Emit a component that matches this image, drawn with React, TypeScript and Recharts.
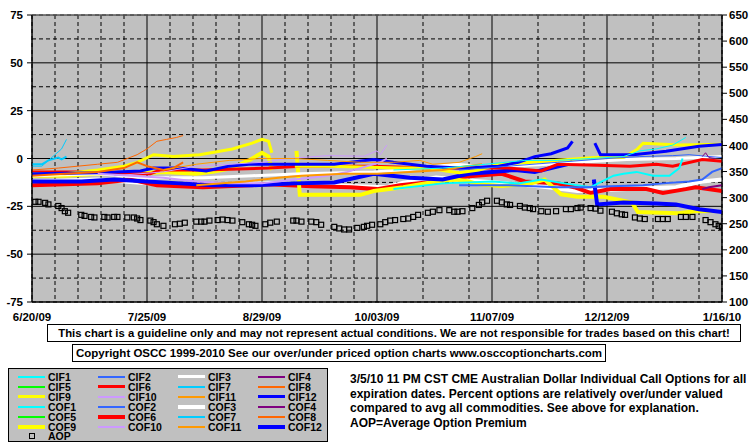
import React from 'react'
import { LineChart, Line, XAxis, YAxis, CartesianGrid, ReferenceLine } from 'recharts'

type Pt = [number, number | null]

// x = days since 6/20/09, left axis = percent over/under, right axis = AOP
const X_TICKS = [0, 35, 70, 105, 140, 175, 210]
const X_LABELS = ['6/20/09', '7/25/09', '8/29/09', '10/03/09', '11/07/09', '12/12/09', '1/16/10']
const WEEK_LINES = [7, 14, 21, 28, 42, 49, 56, 63, 77, 84, 91, 98, 112, 119, 126, 133, 147, 154, 161, 168, 182, 189, 196, 203]
const MONTH_LINES = [35, 70, 105, 140, 175]
const LEFT_TICKS = [-75, -50, -25, 0, 25, 50, 75]
const HALF_LINES = [-62.5, -37.5, -12.5, 12.5, 37.5, 62.5]
const FULL_LINES = [-50, -25, 0, 25, 50]
const RIGHT_TICKS = [100, 150, 200, 250, 300, 350, 400, 450, 500, 550, 600, 650]

const CIF1: Pt[] = [[110, -6], [125, -5], [138, -3], [150, -1], [160, -1], [170, 0], [180, 1], [185, 4], [190, 5], [195, 7], [199, 11]]
const CIF2: Pt[] = [[130, -6], [145, -4], [160, -2], [175, 0], [185, 1], [195, 1.5], [200, 2], [205, 1.2], [210, 0.5]]
const CIF3: Pt[] = [[0, -9], [20, -8], [35, -10], [52, -10], [67, -9], [82, -8], [104, -7], [113, -6], [129, -3], [139, -4.5], [157, -3], [166, -2], [181, -0.5], [196, 0], [210, 1]]
const CIF4: Pt[] = [[204, 1], [205, 3], [206, 0.5], [208, 0]]
const CIF5: Pt[] = []
const CIF6: Pt[] = [[0, -7], [20, -7], [30, -8], [36, -8], [39, -6], [52, -6], [72, -5], [82, -4], [104, -4], [120, -5], [135, -5], [145, -5], [155, -6.5], [160, -3], [172, -3.5], [182, -4], [190, -3], [195, -4], [204, -0.5], [210, -1.5]]
const CIF7: Pt[] = [[0, -4], [3, -4], [5, -1], [7, 2], [9, 5], [10.5, 10]]
const CIF8: Pt[] = [[0, -6], [8, -5], [14, -4], [20, -3], [26, -2], [32, 2], [35, 5], [38, 9], [41, 10], [44, 11], [46, 12]]
const CIF9: Pt[] = [[0, -8], [10, -8], [20, -6], [28, -4], [32, -2], [37, 2], [43, 1], [51, 2], [61, 5], [67, 8], [70, 10], [72, 9], [73, 3], [76, null],
  [80, -4], [90, -4], [100, -4.5], [112, -5], [121, -5], [126, -6.5], [130, -7.5], [136, -6], [142, -3], [152, -2], [163, -0.5], [171, 0.5], [180, 0.5], [184, 4.5], [186, 8], [197, 7], [210, 7.5]]
const CIF10: Pt[] = [[25, -9], [40, -7], [50, -4], [60, -3], [70, -2], [78, 0], [90, 1.5], [101, 1.2], [105, 4], [106, 2], [108, 7]]
const CIF11: Pt[] = [[40, -6], [50, -3], [60, -1], [70, 0], [80, 0], [90, -1], [100, -2], [110, -2], [118, -1], [122, -3], [130, -2], [135, 1], [137, 2.5]]
const CIF12: Pt[] = [[0, -8], [20, -7.5], [33, -6.5], [37, -5], [45, -5], [53, -6.5], [60, -4], [66, -3], [82, -3], [92, -3], [104, -0.5], [110, -2], [120, -4], [130, -5], [142, -4], [148, -2], [153, 1], [158, 2.5], [163, 5.5], [164.5, 9], [168, null],
  [171.3, 8], [173, 2], [183, 2], [193, 3.8], [203, 6.4], [210, 7.3]]

const COF1: Pt[] = [[110, -16], [125, -13], [140, -12], [148, -13], [155, -11], [162, -13], [170, -15], [177, -9], [180, -8], [184, -7], [189, -9], [194, -9], [197, -5], [198, 0]]
const COF2: Pt[] = [[130, -14], [145, -14], [160, -15], [169, -15], [176, -14.5], [186, -14], [192, -13], [200, -12], [204, -11], [207, -7], [210, -5]]
const COF3: Pt[] = [[0, -12], [20, -11], [35, -13], [52, -14], [72, -13], [90, -14], [108, -15], [113, -12.7], [123, -10], [133, -11.5], [145, -13], [157, -15], [166, -17], [181, -16], [196, -15], [204, -12], [210, -11]]
const COF4: Pt[] = [[204, -16], [206, -15], [210, -14]]
const COF5: Pt[] = []
const COF6: Pt[] = [[0, -14], [20, -13], [30, -11], [38, -14], [52, -15], [72, -13.5], [85, -14.5], [97, -15], [105, -16], [112, -14], [123, -12], [129, -10], [135, -9], [143, -8], [150, -12], [160, -13], [165, -15], [170, -18], [176, -16], [187, -16], [192, -18], [199, -16], [202, -15], [210, -17]]
const COF7: Pt[] = [[0, -3], [3, -3], [5, -1], [8, 0.5], [9, -0.5], [10.5, 1]]
const COF8: Pt[] = [[0, -9], [10, -8], [20, -7], [28, -5], [32, -2], [35, -4], [40, -6], [43, -5], [46, -2]]
const COF9: Pt[] = [[0, -9], [10, -9], [20, -8], [30, -8], [40, -7], [50, -8], [55, -7], [61, -5], [66, -1], [70, 3], [72, 1], [73, -6], [76, null],
  [80.5, 4], [81.5, -19], [90, -19], [100, -19], [104, -17], [113, -15], [123, -12], [129, -11], [133, -12], [136, -13.5], [143, -14.4], [152, -13], [156, -11], [161, -18.7], [166, -20], [174, -20], [182.6, -23], [184.4, -28], [196.6, -28.6], [201.8, -27.6], [207, -27.5]]
const COF10: Pt[] = [[20, -8], [30, -9], [40, -10], [50, -12], [60, -13], [70, -13], [80, -11], [90, -9], [96, -7], [102, -4], [106, -2], [108, 0]]
const COF11: Pt[] = [[50, -14], [65, -12], [75, -10], [82, -9], [95, -8], [105, -8], [115, -7], [125, -6], [132, -4], [137, -3]]
const COF12: Pt[] = [[0, -12], [15, -12], [25, -11], [35, -12], [45, -13], [55, -14], [67, -14], [80, -13], [92, -12.5], [104, -8], [115, -10], [125, -11], [133, -8], [140, -7], [147, -6], [153, -7], [158, -5], [163, -3], [164.5, -1.4], [168, null],
  [171, -11], [172, -24], [180, -23], [190, -23.5], [196, -24], [203, -26.5], [210, -28]]

const AOP: Pt[] = [
  [1, 292], [2, 292], [4, 290], [5, 287], [8, 284], [9, 280], [10, 274], [11, 271],
  [15, 267], [16, 265], [18, 263], [19, 262], [22, 263], [23, 262], [25, 263], [26, 263],
  [29, 262], [31, 262], [32, 260], [33, 257], [36, 256], [37, 253], [38, 249], [40, 246],
  [43.5, 249], [45, 250], [46.5, 252], [50, 254], [51.5, 254], [52.5, 254], [54, 256],
  [56.5, 257], [58, 258], [59.5, 257], [61, 256], [64, 253], [66, 249], [67, 248], [68, 246],
  [71, 249], [72.5, 252], [74.5, 254], [79.5, 256], [80.5, 256], [82, 254],
  [85, 254], [86.5, 253], [88, 248], [92, 244], [93.5, 241], [95, 239], [96.5, 239],
  [99, 242], [101, 244], [102, 246], [103.5, 248], [106, 249], [107.5, 253], [109, 256], [110.5, 257],
  [113, 259], [114.5, 260], [116, 263], [117.5, 267], [120.5, 271], [122, 273], [124, 276],
  [127, 276], [128.5, 273], [129.5, 273], [131, 274], [134, 280], [136, 286], [137, 291], [138.5, 294],
  [141.5, 294], [143, 291], [144.5, 287], [145.5, 286], [148.5, 284], [150, 281], [151.5, 280], [152.5, 278],
  [155, 274], [157, 273], [159.5, 274], [162.5, 278], [164, 278], [166, 280], [167, 281],
  [170, 280], [171.5, 279], [173, 275], [176.5, 273], [178, 270], [179.5, 268], [180.5, 267],
  [183.5, 262], [185, 260], [186.5, 259], [190.5, 259], [192, 259], [193.5, 259],
  [197.5, 263], [199, 263], [201, 263], [205, 257], [206.5, 253], [208, 249], [209, 246], [210, 244],
]

const SERIES = [
  { name: 'CIF1', data: CIF1, color: '#00FFFF', w: 1 },
  { name: 'CIF2', data: CIF2, color: '#3366FF', w: 1 },
  { name: 'CIF3', data: CIF3, color: '#FFFFFF', w: 3 },
  { name: 'CIF4', data: CIF4, color: '#800080', w: 1 },
  { name: 'CIF5', data: CIF5, color: '#00FF00', w: 1 },
  { name: 'CIF6', data: CIF6, color: '#FF0000', w: 3 },
  { name: 'CIF7', data: CIF7, color: '#00CCFF', w: 1 },
  { name: 'CIF8', data: CIF8, color: '#FF6600', w: 1 },
  { name: 'CIF9', data: CIF9, color: '#FFFF00', w: 3 },
  { name: 'CIF10', data: CIF10, color: '#CC99FF', w: 1 },
  { name: 'CIF11', data: CIF11, color: '#FF9900', w: 1 },
  { name: 'CIF12', data: CIF12, color: '#0000FF', w: 3 },
  { name: 'COF1', data: COF1, color: '#00FFFF', w: 2 },
  { name: 'COF2', data: COF2, color: '#3366FF', w: 2 },
  { name: 'COF3', data: COF3, color: '#FFFFFF', w: 4 },
  { name: 'COF4', data: COF4, color: '#800080', w: 2 },
  { name: 'COF5', data: COF5, color: '#00FF00', w: 2 },
  { name: 'COF6', data: COF6, color: '#FF0000', w: 4 },
  { name: 'COF7', data: COF7, color: '#00CCFF', w: 2 },
  { name: 'COF8', data: COF8, color: '#FF6600', w: 2 },
  { name: 'COF9', data: COF9, color: '#FFFF00', w: 4 },
  { name: 'COF10', data: COF10, color: '#CC99FF', w: 2 },
  { name: 'COF11', data: COF11, color: '#FF9900', w: 2 },
  { name: 'COF12', data: COF12, color: '#0000FF', w: 4 },
]

const toPts = (a: Pt[]) => a.map(([d, v]) => ({ d, v }))

const FONT = '"Liberation Sans", Arial, sans-serif'
const tickStyle = { fill: '#000', fontSize: 11.5, fontWeight: 700, fontFamily: FONT }

const drawOrder = [...SERIES].sort((a, b) => b.w - a.w)

const boxText: React.CSSProperties = {
  position: 'absolute', height: 16, border: '1px solid #000', fontWeight: 700,
  lineHeight: '16px', textAlign: 'center', whiteSpace: 'nowrap',
}

export default function App() {
  return (
    <div style={{ position: 'fixed', left: 0, top: 0, width: 755, height: 446, background: '#fff', fontFamily: FONT }}>
      <LineChart width={755} height={330} margin={{ top: 15, right: 0, bottom: 8, left: 0 }}>
        <XAxis xAxisId="wk" hide type="number" dataKey="d" domain={[0, 210]} ticks={WEEK_LINES} allowDataOverflow />
        <XAxis xAxisId="mo" hide type="number" dataKey="d" domain={[0, 210]} ticks={MONTH_LINES} allowDataOverflow />
        <YAxis yAxisId="half" hide type="number" domain={[-75, 75]} ticks={HALF_LINES} allowDataOverflow />
        <YAxis yAxisId="full" hide type="number" domain={[-75, 75]} ticks={FULL_LINES} allowDataOverflow />
        <CartesianGrid xAxisId="wk" yAxisId="half" stroke="#000" strokeDasharray="4 3" fill="#C0C0C0" fillOpacity={1} />
        <CartesianGrid xAxisId="mo" yAxisId="full" stroke="#000" />
        <XAxis
          type="number"
          dataKey="d"
          domain={[0, 210]}
          ticks={X_TICKS}
          interval={0}
          allowDataOverflow
          height={20}
          tickLine={false}
          tickSize={0}
          tickMargin={11}
          axisLine={{ stroke: '#000' }}
          tick={tickStyle}
          tickFormatter={(v: number) => X_LABELS[X_TICKS.indexOf(v)] ?? ''}
        />
        <YAxis
          type="number"
          domain={[-75, 75]}
          ticks={LEFT_TICKS}
          interval={0}
          allowDataOverflow
          width={32}
          tickSize={5}
          tickMargin={4}
          axisLine={{ stroke: '#000' }}
          tickLine={{ stroke: '#000' }}
          tick={tickStyle}
        />
        <YAxis
          yAxisId="right"
          orientation="right"
          type="number"
          domain={[100, 650]}
          ticks={RIGHT_TICKS}
          interval={0}
          allowDataOverflow
          width={33}
          tickSize={5}
          tickMargin={2}
          axisLine={{ stroke: '#000' }}
          tickLine={{ stroke: '#000' }}
          tick={tickStyle}
        />
        <ReferenceLine y={75} stroke="#808080" />
        {drawOrder.map((s) => (
          <Line
            key={s.name}
            data={toPts(s.data)}
            dataKey="v"
            type="linear"
            stroke={s.color}
            strokeWidth={s.w}
            dot={false}
            activeDot={false}
            connectNulls={false}
            isAnimationActive={false}
          />
        ))}
        <Line
          yAxisId="right"
          data={toPts(AOP)}
          dataKey="v"
          stroke="none"
          activeDot={false}
          isAnimationActive={false}
          dot={(p: any) => (
            <rect key={p.index} x={p.cx - 2.5} y={p.cy - 2.5} width={5} height={5} fill="none" stroke="#000" strokeWidth={1.2} />
          )}
        />
      </LineChart>

      <div style={{ ...boxText, left: 47, top: 324, width: 692, fontSize: 11.3 }}>
        This chart is a guideline only and may not represent actual conditions. We are not responsible for trades based on this chart!
      </div>
      <div style={{ ...boxText, left: 72, top: 344, width: 532, fontSize: 11.5 }}>
        Copyright OSCC 1999-2010 See our over/under priced option charts www.osccoptioncharts.com
      </div>

      <div style={{ position: 'absolute', left: 8, top: 368, width: 318, height: 72, border: '1px solid #000', background: '#C0C0C0' }}>
        {SERIES.map((s, i) => {
          const col = i % 4
          const row = Math.floor(i / 4)
          return (
            <div key={s.name} style={{ position: 'absolute', left: 9 + col * 80, top: 3 + row * 10, height: 10, width: 80 }}>
              <div style={{ position: 'absolute', left: 0, top: 5 - Math.ceil(s.w / 2), width: 27, height: Math.max(2, s.w), background: s.color }} />
              <div style={{ position: 'absolute', left: 30, top: 0, fontSize: 10.5, fontWeight: 700, lineHeight: '10px' }}>{s.name}</div>
            </div>
          )
        })}
        <div style={{ position: 'absolute', left: 9, top: 63, height: 10, width: 80 }}>
          <div style={{ position: 'absolute', left: 11, top: 1, width: 4, height: 4, border: '1px solid #000' }} />
          <div style={{ position: 'absolute', left: 30, top: -1, fontSize: 10.5, fontWeight: 700, lineHeight: '10px' }}>AOP</div>
        </div>
      </div>

      <div style={{ position: 'absolute', left: 350, top: 372, fontSize: 12, fontWeight: 700, lineHeight: '14.5px', whiteSpace: 'nowrap' }}>
        <div>3/5/10 11 PM CST CME Australian Dollar Individual Call Options for all</div>
        <div>expiration dates. Percent options are relatively over/under valued</div>
        <div>compared to avg all commodities. See above for explanation.</div>
        <div>AOP=Average Option Premium</div>
      </div>
    </div>
  )
}
